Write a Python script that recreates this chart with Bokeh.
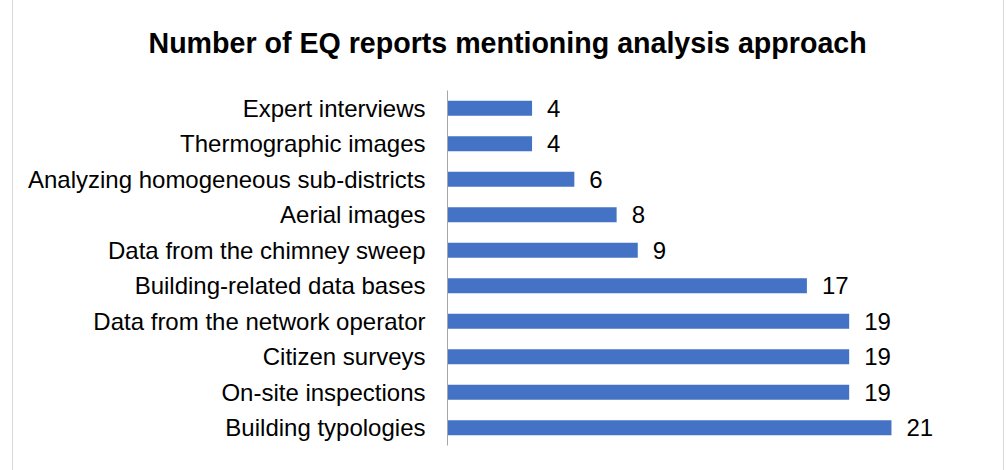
from bokeh.plotting import figure
from bokeh.models import ColumnDataSource, LabelSet, Range1d, FactorRange, Title
from bokeh.core.properties import value
from bokeh.embed import file_html
from bokeh.resources import INLINE

categories = [
    "Expert interviews",
    "Thermographic images",
    "Analyzing homogeneous sub-districts",
    "Aerial images",
    "Data from the chimney sweep",
    "Building-related data bases",
    "Data from the network operator",
    "Citizen surveys",
    "On-site inspections",
    "Building typologies",
]
counts = [4, 4, 6, 8, 9, 17, 19, 19, 19, 21]
title_text = "Number of EQ reports mentioning analysis approach"

FONT = "Liberation Sans"

src = ColumnDataSource(dict(cat=categories, val=counts, lab=[str(v) for v in counts]))

p = figure(
    width=992, height=470,
    y_range=FactorRange(factors=categories[::-1], range_padding=0),
    x_range=Range1d(0, 26.3),
    output_backend="svg", toolbar_location=None,
    min_border_left=434, min_border_right=2, min_border_top=90, min_border_bottom=25,
)
p.margin = (0, 0, 0, 12)
p.styles = {"border-left": "1px solid #d9d9d9", "border-right": "1px solid #d9d9d9"}

spacer = Title(text=" ", text_font=FONT, text_font_size="22px", standoff=0)
p.add_layout(spacer, "above")
p.add_layout(Title(text=title_text, text_font=FONT, text_font_size="28.6px",
                   text_font_style="bold", text_color="#000000", align="left",
                   offset=-299, standoff=10), "above")

p.hbar(y="cat", right="val", left=0, height=0.42, source=src,
       fill_color="#4472C4", line_color=None)

labels = LabelSet(x="val", y="cat", text="lab", source=src, x_offset=15,
                  text_baseline="middle", text_font=value(FONT), text_font_size=value("24px"),
                  text_color="#000000")
p.add_layout(labels)

p.xaxis.visible = False
p.xgrid.visible = False
p.ygrid.visible = False
p.outline_line_color = None

ax = p.yaxis[0]
ax.axis_line_color = "#a6a6a6"
ax.major_tick_line_color = None
ax.minor_tick_line_color = None
ax.major_label_standoff = 16
ax.major_label_text_font = FONT
ax.major_label_text_font_size = "24px"
ax.major_label_text_color = "#000000"

open("out.html", "w").write(file_html(p, INLINE))
